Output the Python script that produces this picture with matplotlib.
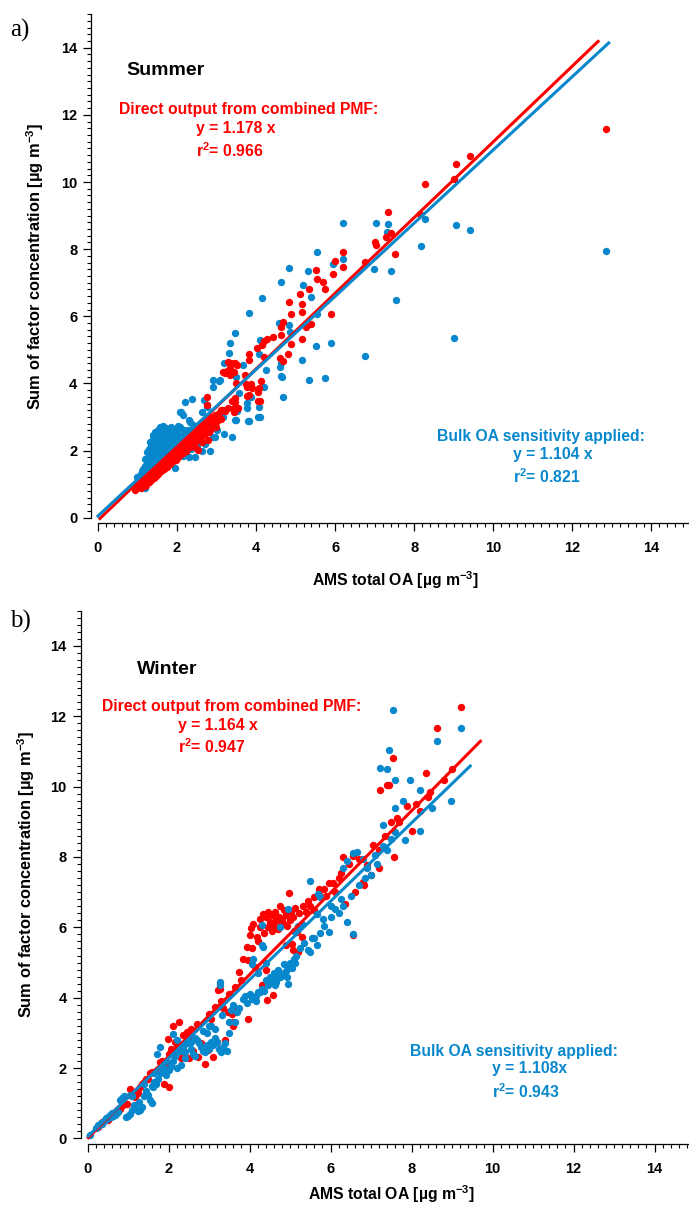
import matplotlib
matplotlib.use("Agg")
import matplotlib.pyplot as plt
from matplotlib.ticker import MultipleLocator

plt.rcParams['font.family'] = ['Liberation Sans', 'DejaVu Sans']
plt.rcParams['font.weight'] = 'bold'
plt.rcParams['mathtext.fontset'] = 'custom'
plt.rcParams['mathtext.rm'] = 'Liberation Sans:bold'
plt.rcParams['mathtext.it'] = 'Liberation Sans:bold'
plt.rcParams['mathtext.bf'] = 'Liberation Sans:bold'

RED = '#ff0000'
BLUE = '#0888cc'

# ---- summer (panel a) ----
summer_pmf_x = [0.94, 1.00, 1.05, 1.10, 1.15, 1.19, 1.22, 1.25, 1.30, 1.32, 1.38, 1.40, 1.45, 1.50,
                1.55, 1.58, 1.61, 1.65, 1.70, 1.72, 1.78, 1.80, 1.85, 1.90, 1.95, 2.00, 2.05, 2.10,
                2.12, 2.18, 2.20, 2.25, 2.30, 2.35, 2.40, 2.46, 2.50, 2.55, 2.60, 2.65, 2.71, 2.75,
                2.79, 2.62, 2.54, 2.45, 2.67, 2.89, 2.85, 2.95, 2.75, 2.75, 3.06, 3.11, 3.21, 3.30,
                3.43, 3.40, 3.47, 3.17, 3.43, 3.55, 3.47, 3.76, 4.09, 4.07, 4.13, 3.87, 3.75, 3.49,
                3.34, 3.17, 3.26, 3.51, 3.37, 3.46, 3.72, 3.83, 3.83, 4.19, 4.03, 4.15, 4.19, 4.27,
                4.43, 4.64, 4.64, 4.67, 4.61, 4.69, 4.80, 4.88, 5.16, 5.26, 5.38, 5.16, 4.88, 5.90,
                4.82, 5.16, 5.12, 5.33, 5.74, 5.70, 5.55, 5.51, 5.94, 5.99, 6.19, 6.19, 6.76, 7.52,
                7.04, 7.00, 7.28, 7.41, 7.33, 8.27, 8.15, 9.00, 9.06, 9.41, 12.84, 3.22, 3.35, 3.30,
                3.45, 3.89, 4.06, 4.06, 3.81, 3.77, 1.35, 1.48, 1.62, 1.75, 1.88, 2.02, 2.15, 2.28,
                2.38, 1.12, 1.28, 1.42, 1.68, 1.98, 2.22, 2.58, 2.82, 2.98,
                1.08, 1.18, 1.28, 1.35, 1.42, 1.48, 1.52, 1.60, 1.68, 1.75, 1.82, 1.90, 1.97, 2.03,
                2.08, 2.15, 2.22, 2.32, 2.42, 2.52, 2.60, 2.70, 2.85, 2.92, 3.00, 3.10, 1.55, 1.62,
                1.40, 1.88, 2.28, 2.48, 2.58, 2.80]
summer_pmf_y = [0.82, 0.92, 0.95, 1.00, 1.05, 1.12, 0.98, 1.15, 1.10, 1.25, 1.20, 1.32, 1.28, 1.40,
                1.35, 1.50, 1.72, 1.55, 1.60, 1.75, 1.68, 1.85, 1.78, 1.92, 1.85, 2.02, 1.95, 2.15,
                2.12, 2.05, 2.25, 2.18, 2.35, 2.28, 2.45, 2.41, 2.55, 2.48, 2.65, 2.60, 2.71, 2.82,
                2.31, 2.25, 2.02, 2.10, 2.83, 2.93, 3.00, 3.05, 3.36, 3.60, 3.11, 3.21, 3.19, 3.27,
                3.28, 3.48, 3.56, 3.21, 3.16, 3.26, 3.46, 3.62, 3.48, 3.86, 4.07, 3.99, 3.97, 4.00,
                4.24, 4.35, 4.38, 4.55, 4.62, 4.62, 4.24, 4.87, 4.69, 4.79, 5.06, 5.15, 5.25, 5.32,
                5.39, 5.43, 5.69, 5.84, 4.76, 4.68, 4.87, 5.17, 5.32, 5.69, 5.78, 6.13, 6.08, 6.08,
                6.42, 6.38, 6.66, 6.81, 6.80, 7.03, 7.10, 7.37, 7.25, 7.65, 7.47, 7.91, 7.62, 7.87,
                8.13, 8.21, 8.35, 8.47, 9.11, 9.94, 9.06, 10.08, 10.55, 10.77, 11.58, 4.30, 4.45, 4.65,
                4.35, 3.85, 3.74, 3.49, 3.65, 3.90, 1.30, 1.42, 1.45, 1.62, 1.70, 1.90, 1.98, 2.10,
                2.20, 1.08, 1.05, 1.22, 1.48, 1.75, 2.00, 2.32, 2.55, 2.70,
                0.88, 0.95, 1.05, 1.12, 1.18, 1.25, 1.30, 1.38, 1.45, 1.52, 1.60, 1.68, 1.72, 1.80,
                1.88, 1.92, 2.00, 2.12, 2.22, 2.30, 2.40, 2.50, 2.65, 2.75, 2.88, 2.95, 1.62, 1.65,
                1.45, 2.00, 2.45, 2.62, 2.78, 2.95]

summer_bulk_x = [1.00, 0.98, 1.19, 1.05, 1.10, 1.15, 1.25, 1.20, 1.30, 1.28, 1.35, 1.40, 1.45, 1.50,
                 1.55, 1.60, 1.65, 1.70, 1.75, 1.80, 1.85, 1.90, 1.95, 2.00, 2.05, 1.50, 1.60, 1.70,
                 1.40, 1.55, 1.65, 1.75, 1.85, 1.95, 2.10, 2.20, 1.35, 1.45, 1.30, 1.22, 1.60, 1.80,
                 1.95, 2.15, 2.30, 2.46, 2.35, 2.50, 2.63, 2.83, 2.70, 2.90, 2.40, 2.33, 2.15, 2.08,
                 2.19, 2.39, 2.10, 2.62, 2.77, 2.67, 2.75, 2.92, 2.90, 3.06, 3.09, 3.38, 3.47, 3.81,
                 4.06, 2.96, 3.17, 3.49, 3.80, 4.09, 3.51, 3.76, 3.76, 4.07, 3.87, 3.56, 4.19, 3.49,
                 3.68, 4.63, 4.26, 4.63, 4.69, 4.65, 4.61, 4.08, 4.11, 3.20, 3.31, 3.33, 3.46, 3.83,
                 4.16, 4.59, 4.82, 4.86, 4.63, 4.82, 5.18, 5.32, 5.38, 5.53, 5.54, 5.94, 6.19, 6.21,
                 7.03, 7.33, 7.30, 8.16, 8.27, 6.98, 7.42, 7.53, 6.76, 5.90, 5.51, 5.16, 5.33, 5.75,
                 9.41, 9.06, 12.84, 9.01, 1.42, 1.52, 1.62, 1.72, 1.82, 1.48, 1.58, 1.68, 1.78, 1.88,
                 1.38, 1.98, 2.25, 1.32, 1.88, 2.02, 1.55, 1.70,
                 1.25, 1.32, 1.38, 1.45, 1.52, 1.58, 1.65, 1.72, 1.78, 1.85, 1.92, 1.98, 2.05, 2.12,
                 1.42, 1.48, 1.58, 1.68, 1.78, 1.88, 2.08, 2.18, 2.28, 2.22, 1.35, 1.18, 1.12, 1.25,
                 1.02, 1.62, 1.72, 1.50, 2.30, 2.55, 2.65, 2.80, 3.00, 3.20, 2.50, 2.58]
summer_bulk_y = [1.22, 1.20, 0.88, 1.05, 1.30, 1.45, 1.60, 1.75, 1.85, 2.05, 2.20, 2.35, 2.10, 2.25,
                 2.40, 2.50, 2.30, 2.55, 2.45, 2.65, 2.71, 2.55, 2.40, 2.60, 2.45, 1.95, 2.05, 2.15,
                 1.70, 1.80, 1.90, 2.00, 2.20, 2.25, 2.30, 2.50, 1.55, 1.60, 1.35, 1.20, 1.60, 1.75,
                 1.47, 1.85, 1.82, 1.82, 2.05, 2.15, 2.00, 2.00, 2.20, 2.40, 2.75, 2.86, 3.07, 3.16,
                 3.45, 3.54, 3.15, 3.16, 3.35, 3.51, 3.30, 4.10, 3.88, 4.08, 4.10, 2.41, 2.91, 2.88,
                 3.01, 2.41, 2.99, 2.91, 2.89, 2.99, 3.19, 3.28, 3.43, 3.31, 3.61, 3.70, 3.88, 4.18,
                 4.55, 4.22, 4.40, 4.60, 3.60, 4.20, 4.50, 4.87, 5.29, 4.62, 4.90, 5.19, 5.51, 6.11,
                 6.54, 5.79, 5.74, 5.54, 7.01, 7.45, 6.94, 7.36, 6.56, 6.08, 7.91, 7.56, 8.79, 7.71,
                 8.77, 8.75, 8.52, 8.10, 8.89, 7.42, 7.35, 6.49, 4.82, 5.20, 5.10, 4.71, 4.09, 4.15,
                 8.57, 8.72, 7.94, 5.35, 2.00, 2.15, 2.35, 2.40, 2.45, 2.30, 2.40, 2.62, 2.35, 2.60,
                 1.90, 2.65, 2.40, 1.65, 2.48, 2.72, 2.55, 2.40,
                 1.95, 2.25, 2.45, 2.55, 2.62, 2.70, 2.72, 2.68, 2.52, 2.45, 2.35, 2.20, 2.10, 2.05,
                 1.85, 2.05, 2.18, 2.28, 2.32, 2.12, 2.70, 2.62, 2.62, 2.18, 2.02, 1.55, 1.40, 1.35,
                 1.10, 1.72, 1.85, 1.50, 2.90, 2.75, 2.85, 2.75, 2.60, 2.50, 2.45, 2.30]

summer_pmf_fit = (1.128, -0.08, 0.05, 12.65)   # slope, intercept, x start, x end
summer_bulk_fit = (1.091, 0.05, 0.0, 12.92)

# ---- winter (panel b) ----
winter_pmf_x = [0.27, 0.35, 0.45, 0.55, 0.68, 0.80, 0.97, 1.05, 1.17, 1.30, 1.40, 1.54, 1.60, 1.67,
                1.79, 1.96, 2.00, 1.99, 2.12, 2.20, 2.26, 2.45, 2.49, 2.74, 2.90, 2.98, 3.11, 3.19,
                3.40, 3.23, 3.27, 3.48, 3.56, 3.64, 3.58, 3.97, 3.75, 3.97, 4.13, 4.30, 4.59, 4.42,
                3.93, 4.18, 4.01, 4.03, 4.09, 4.33, 4.40, 4.50, 4.60, 4.65, 4.70, 4.76, 4.85, 4.98,
                4.80, 4.90, 5.00, 5.08, 5.17, 5.29, 5.33, 5.50, 5.08, 5.04, 5.72, 5.72, 5.95, 6.36,
                6.55, 6.83, 6.32, 6.55, 6.91, 7.22, 7.39, 7.45, 7.54, 7.50, 7.65, 7.90, 8.00, 7.20,
                7.20, 7.57, 8.36, 8.63, 9.22, 2.00, 1.50, 2.30, 2.60, 2.80, 5.60, 5.90, 6.10, 6.60,
                6.80, 7.00, 4.45, 4.55, 4.25, 4.85, 3.05, 3.35, 2.15, 1.25, 0.60, 6.20, 8.20, 8.40,
                0.50, 0.62, 0.72, 0.88, 1.10, 1.22, 1.35, 1.45, 1.72, 1.85, 2.05, 2.15, 2.35, 2.55,
                2.70, 3.00, 3.15, 3.30, 3.50, 3.65, 3.80, 3.85, 4.05, 4.20, 4.25, 4.35, 4.45, 4.55,
                4.62, 4.72, 4.78, 4.92, 5.02, 5.12, 5.22, 5.40, 5.45, 5.60, 5.85, 6.05, 6.25, 6.45,
                6.70, 7.05, 7.35, 7.70, 8.10, 8.45, 8.80, 9.00, 4.40, 4.90, 5.20, 3.60, 2.50, 3.30,
                1.90]
winter_pmf_y = [0.34, 0.48, 0.55, 0.62, 0.71, 0.85, 0.99, 1.42, 1.18, 1.45, 1.60, 1.85, 1.90, 1.56,
                2.18, 2.13, 1.47, 2.84, 3.19, 2.65, 3.31, 3.03, 2.88, 2.32, 2.13, 2.51, 2.32, 2.74,
                2.79, 4.21, 4.26, 3.60, 3.55, 3.64, 3.31, 3.40, 4.73, 5.06, 4.87, 4.36, 4.07, 3.93,
                5.44, 5.72, 5.79, 5.97, 6.10, 6.38, 6.30, 6.15, 6.05, 6.20, 5.95, 6.62, 6.50, 6.98,
                6.25, 6.35, 6.20, 6.30, 5.88, 5.74, 6.60, 6.60, 5.35, 5.54, 7.08, 6.95, 7.27, 6.67,
                5.77, 7.19, 8.01, 8.04, 7.76, 9.90, 10.05, 10.05, 10.82, 9.00, 9.10, 9.45, 8.74, 8.20,
                7.70, 8.00, 10.40, 11.66, 12.25, 2.40, 1.70, 2.30, 2.50, 2.70, 6.50, 6.90, 7.00, 7.00,
                7.30, 7.50, 6.45, 5.90, 6.25, 6.10, 3.40, 3.70, 2.50, 1.30, 0.66, 7.40, 9.30, 9.70,
                0.52, 0.70, 0.80, 0.95, 1.25, 1.35, 1.55, 1.70, 1.95, 2.20, 2.55, 2.75, 2.95, 3.10,
                3.25, 3.55, 3.75, 3.90, 4.10, 4.30, 4.50, 5.10, 5.40, 5.60, 6.00, 5.85, 6.00, 6.35,
                6.45, 6.30, 6.10, 6.05, 6.45, 6.55, 6.40, 6.45, 6.75, 6.85, 7.10, 7.25, 7.55, 7.80,
                7.95, 8.35, 8.60, 9.00, 9.50, 9.85, 10.20, 10.50, 4.80, 5.50, 5.30, 3.20, 2.30, 2.50,
                1.55]

winter_bulk_x = [0.06, 0.20, 0.27, 0.33, 0.40, 0.45, 0.50, 0.55, 0.60, 0.64, 0.70, 0.76, 0.80, 0.85,
                 0.90, 1.05, 1.10, 1.20, 1.30, 1.15, 1.40, 1.45, 1.54, 1.58, 1.60, 1.62, 1.75, 1.80,
                 1.90, 1.95, 2.00, 1.71, 1.79, 2.12, 2.20, 2.25, 2.35, 2.45, 2.10, 2.20, 2.30, 2.40,
                 2.70, 2.75, 2.80, 2.85, 2.90, 3.00, 3.10, 3.20, 3.30, 3.44, 3.40, 3.27, 3.27, 3.31,
                 3.60, 3.55, 3.85, 3.90, 4.00, 4.10, 4.20, 4.15, 4.26, 4.30, 4.63, 4.96, 4.50, 4.60,
                 4.70, 4.80, 4.90, 4.85, 4.95, 5.00, 5.13, 5.10, 4.05, 4.08, 4.34, 4.30, 4.30, 4.75,
                 4.96, 5.10, 5.20, 5.30, 5.49, 5.66, 5.45, 5.66, 5.70, 5.74, 5.49, 5.82, 5.95, 6.11,
                 6.40, 6.55, 6.30, 6.40, 6.55, 6.65, 6.80, 6.90, 7.00, 7.10, 7.22, 7.39, 7.45, 7.55,
                 7.59, 7.60, 7.40, 7.83, 8.20, 8.20, 7.97, 8.98, 8.63, 9.22, 7.30, 7.60, 7.80, 8.50,
                 2.55, 2.65, 2.95, 3.05, 3.15, 3.50, 3.70, 4.40, 4.55, 4.65, 4.75, 5.55, 6.00, 6.25,
                 0.25, 0.35, 0.42, 0.48, 0.58, 0.68, 0.95, 1.00, 1.25, 1.35, 1.28, 1.05, 1.10, 1.50,
                 1.65, 1.70, 1.85, 2.05, 2.15, 2.30, 2.40, 2.55, 2.60, 2.65, 2.95, 3.05, 3.15, 3.25,
                 3.35, 3.50, 3.65, 3.75, 3.95, 4.05, 4.15, 4.35, 4.45, 4.55, 4.65, 4.75, 4.85, 4.92,
                 5.05, 5.15, 5.25, 5.35, 5.60, 5.75, 5.85, 6.00, 6.20, 6.30, 6.50, 6.70, 6.85, 7.15,
                 7.30, 7.50, 3.00, 2.85, 2.20, 1.95, 1.65, 1.40, 4.20, 4.40]
winter_bulk_y = [0.10, 0.30, 0.38, 0.45, 0.50, 0.58, 0.60, 0.68, 0.72, 0.65, 0.70, 0.75, 1.10, 1.15,
                 1.20, 0.71, 0.80, 0.85, 0.81, 0.95, 1.20, 1.35, 1.10, 1.00, 1.50, 1.45, 1.70, 1.85,
                 2.00, 1.80, 1.95, 2.40, 2.60, 2.97, 2.45, 2.55, 2.60, 2.70, 2.20, 2.00, 2.10, 2.30,
                 2.80, 2.70, 2.60, 2.50, 2.45, 2.55, 2.65, 2.75, 2.45, 2.50, 2.70, 4.44, 4.35, 3.50,
                 3.79, 3.65, 3.95, 4.05, 4.10, 4.00, 4.15, 3.90, 4.17, 4.26, 4.35, 4.40, 4.60, 4.70,
                 4.80, 4.65, 4.75, 4.95, 4.85, 5.00, 5.00, 5.10, 4.96, 5.11, 5.44, 5.50, 6.06, 6.01,
                 6.53, 5.90, 6.05, 6.10, 5.30, 5.50, 5.35, 6.39, 6.95, 6.86, 7.31, 6.25, 5.87, 6.53,
                 6.15, 5.80, 7.70, 7.90, 8.10, 8.15, 7.95, 7.70, 7.50, 8.05, 10.52, 10.49, 11.04, 12.18,
                 10.20, 8.70, 8.20, 8.47, 8.74, 9.90, 10.20, 9.60, 11.29, 11.66, 8.90, 9.40, 9.60, 9.40,
                 2.75, 2.85, 3.00, 3.20, 3.10, 3.30, 3.60, 4.50, 4.55, 4.45, 4.60, 5.70, 6.60, 6.80,
                 0.35, 0.42, 0.52, 0.55, 0.62, 0.68, 0.60, 0.65, 0.78, 0.90, 1.05, 1.25, 1.20, 1.25,
                 1.60, 1.55, 1.95, 2.05, 2.35, 2.50, 2.45, 2.55, 2.40, 2.35, 2.65, 2.75, 2.85, 2.55,
                 2.60, 3.00, 3.30, 3.70, 3.85, 3.95, 4.05, 4.20, 4.35, 4.45, 4.55, 4.60, 4.70, 4.60,
                 4.85, 5.20, 5.40, 5.55, 5.70, 5.85, 6.05, 6.30, 6.40, 6.60, 6.90, 7.20, 7.40, 7.80,
                 8.30, 8.50, 3.20, 3.05, 2.80, 2.20, 1.85, 1.55, 4.70, 5.00]

winter_pmf_fit = (1.164, 0.0, 0.02, 9.70)
winter_bulk_fit = (1.115, 0.05, 0.02, 9.45)


def draw_panel(ax, pmf_x, pmf_y, bulk_x, bulk_y, pmf_fit, bulk_fit, xmax, red_first):
    ms = 5.3
    if red_first:
        ax.plot(pmf_x, pmf_y, 'o', ms=ms, mew=0, color=RED, clip_on=False, zorder=2)
        ax.plot(bulk_x, bulk_y, 'o', ms=ms, mew=0, color=BLUE, clip_on=False, zorder=3)
    else:
        ax.plot(bulk_x, bulk_y, 'o', ms=ms, mew=0, color=BLUE, clip_on=False, zorder=2)
        ax.plot(pmf_x, pmf_y, 'o', ms=ms, mew=0, color=RED, clip_on=False, zorder=3)
    for (m, b, x0, x1), c in ((pmf_fit, RED), (bulk_fit, BLUE)):
        ax.plot([x0, x1], [b + m * x0, b + m * x1], color=c, lw=2.2, zorder=4, clip_on=False)

    ax.set_xlim(0, xmax)
    ax.set_ylim(0, 15)
    for s in ('top', 'right'):
        ax.spines[s].set_visible(False)
    ax.spines['left'].set_position(('outward', 5))
    ax.spines['bottom'].set_position(('outward', 4))
    ax.spines['left'].set_linewidth(0.9)
    ax.spines['bottom'].set_linewidth(0.9)
    ax.xaxis.set_major_locator(MultipleLocator(2))
    ax.xaxis.set_minor_locator(MultipleLocator(0.2))
    ax.yaxis.set_major_locator(MultipleLocator(2))
    ax.yaxis.set_minor_locator(MultipleLocator(0.2))
    ax.tick_params(which='major', direction='out', length=6, width=0.9, labelsize=10.5)
    ax.tick_params(which='minor', direction='out', length=3.2, width=0.8)
    ax.tick_params(axis='x', pad=7)
    ax.tick_params(axis='y', pad=4)
    ax.set_xlabel('AMS total OA [µg m$^{-3}$]', fontsize=11.3, fontweight='bold')
    ax.set_ylabel('Sum of factor concentration [µg m$^{-3}$]', fontsize=11.8, fontweight='bold')


fig = plt.figure(figsize=(6.89, 12.05), dpi=100)

ax1 = fig.add_axes([0.1422, 0.5704, 0.8578, 0.4178])
draw_panel(ax1, summer_pmf_x, summer_pmf_y, summer_bulk_x, summer_bulk_y,
           summer_pmf_fit, summer_bulk_fit, 14.95, red_first=False)
ax1.xaxis.set_label_coords(0.503, -0.103)
ax1.yaxis.set_label_coords(-0.088, 0.5)
ax1.text(0.73, 13.2, 'Summer', fontsize=14, fontweight='bold', color='black')
ax1.text(0.53, 12.02, 'Direct output from combined PMF:', fontsize=11.3, color=RED)
ax1.text(2.48, 11.46, 'y = 1.178 x', fontsize=11.3, color=RED)
ax1.text(2.48, 10.74, 'r$^{2}$= 0.966', fontsize=11.3, color=RED)
ax1.text(8.58, 2.28, 'Bulk OA sensitivity applied:', fontsize=11.3, color=BLUE)
ax1.text(10.5, 1.75, 'y = 1.104 x', fontsize=11.3, color=BLUE)
ax1.text(10.5, 1.03, 'r$^{2}$= 0.821', fontsize=11.3, color=BLUE)

ax2 = fig.add_axes([0.127, 0.0552, 0.873, 0.438])
draw_panel(ax2, winter_pmf_x, winter_pmf_y, winter_bulk_x, winter_bulk_y,
           winter_pmf_fit, winter_bulk_fit, 14.85, red_first=True)
ax2.xaxis.set_label_coords(0.505, -0.085)
ax2.yaxis.set_label_coords(-0.084, 0.5)
ax2.text(1.22, 13.2, 'Winter', fontsize=14, fontweight='bold', color='black')
ax2.text(0.36, 12.14, 'Direct output from combined PMF:', fontsize=11.3, color=RED)
ax2.text(2.23, 11.62, 'y = 1.164 x', fontsize=11.3, color=RED)
ax2.text(2.23, 10.96, 'r$^{2}$= 0.947', fontsize=11.3, color=RED)
ax2.text(7.96, 2.34, 'Bulk OA sensitivity applied:', fontsize=11.3, color=BLUE)
ax2.text(9.99, 1.86, 'y = 1.108x', fontsize=11.3, color=BLUE)
ax2.text(9.99, 1.15, 'r$^{2}$= 0.943', fontsize=11.3, color=BLUE)

fig.text(0.0145, 0.970, 'a)', fontsize=18, family='Liberation Serif', fontweight='normal')
fig.text(0.0145, 0.479, 'b)', fontsize=18, family='Liberation Serif', fontweight='normal')

fig.savefig('out.png', dpi=100)
